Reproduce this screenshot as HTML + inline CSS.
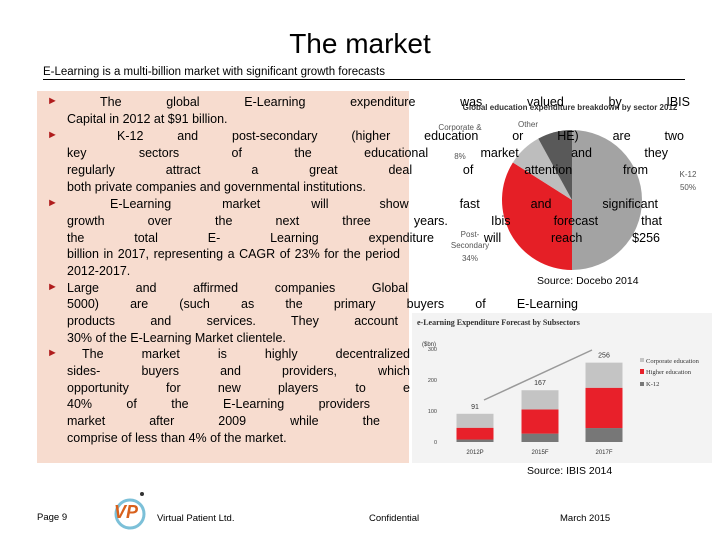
<!DOCTYPE html>
<html><head><meta charset="utf-8">
<style>
*{margin:0;padding:0;box-sizing:border-box}
body{width:720px;height:540px;background:#fff;position:relative;overflow:hidden;font-family:"Liberation Sans",sans-serif;color:#000}
.abs{position:absolute}
.ln{position:absolute;font-size:12.5px;line-height:16px;white-space:nowrap}
.j{text-align:justify;text-align-last:justify;white-space:normal;height:16px;overflow:hidden}
.bul{position:absolute;left:47px;color:#b01c1c;font-size:11px}
</style></head><body>
<div class="abs" style="left:0;width:720px;top:28px;text-align:center;font-size:28px">The market</div>
<div class="abs" style="left:43px;top:65px;font-size:11.5px;width:642px;border-bottom:1px solid #000;line-height:14px">E-Learning is a multi-billion market with significant growth forecasts</div>
<div class="abs" style="left:37px;top:91px;width:372px;height:372px;background:#f7dccf"></div>

<svg class="abs" style="left:420px;top:95px" width="300" height="200" viewBox="0 0 300 200">
<text x="150" y="15" font-size="8" text-anchor="middle" fill="#333" font-weight="bold">Global education expenditure breakdown by sector 2012</text>
<g id="pie"></g>
<text x="268" y="82" font-size="8" fill="#555" text-anchor="middle">K-12</text>
<text x="268" y="95" font-size="8" fill="#555" text-anchor="middle">50%</text>
<text x="50" y="142" font-size="8" fill="#555" text-anchor="middle">Post-</text>
<text x="50" y="153" font-size="8" fill="#555" text-anchor="middle">Secondary</text>
<text x="50" y="166" font-size="8" fill="#555" text-anchor="middle">34%</text>
<text x="40" y="35" font-size="8" fill="#555" text-anchor="middle">Corporate &amp;</text>
<text x="40" y="64" font-size="8" fill="#555" text-anchor="middle">8%</text>
<text x="108" y="32" font-size="8" fill="#555" text-anchor="middle">Other</text>
</svg>
<div class="abs" style="left:537px;top:275px;font-size:10.5px">Source: Docebo 2014</div>

<div id="text"></div>

<svg class="abs" style="left:412px;top:313px;background:#f3f3f3" width="300" height="150" viewBox="0 0 300 150">
<text x="5" y="12" font-size="8" font-weight="bold" fill="#333" font-family="Liberation Serif">e-Learning Expenditure Forecast by Subsectors</text>
<text x="10" y="33" font-size="6" fill="#333">($bn)</text>
<g id="bars"></g>
<g font-size="6.5" font-family="Liberation Serif" fill="#333">
<rect x="228" y="45" width="4" height="4" fill="#c4c4c4"/><text x="234" y="50">Corporate education</text>
<rect x="228" y="56" width="4" height="5" fill="#e8202a"/><text x="234" y="61">Higher education</text>
<rect x="228" y="69" width="4" height="4" fill="#777"/><text x="234" y="73">K-12</text>
</g>
</svg>
<div class="abs" style="left:527px;top:465px;font-size:10.5px">Source: IBIS 2014</div>

<div class="abs" style="left:37px;top:512px;font-size:9.5px">Page 9</div>
<svg class="abs" style="left:104px;top:490px" width="46" height="42">
<circle cx="26" cy="24" r="14" fill="none" stroke="#7cc0d8" stroke-width="3"/>
<text x="10" y="28" font-size="18" font-weight="bold" fill="#d8601c" font-style="italic">VP</text>
<circle cx="38" cy="4" r="2" fill="#333"/>
</svg>
<div class="abs" style="left:157px;top:513px;font-size:9.5px">Virtual Patient Ltd.</div>
<div class="abs" style="left:369px;top:513px;font-size:9.5px">Confidential</div>
<div class="abs" style="left:560px;top:513px;font-size:9.5px">March 2015</div>

<script>
// pie data
const pieLabels=["K-12","Post-Secondary","Corporate","Other"];
const pieValues=[50,34,8,8];
const pieColors=["#a3a3a3","#e51f26","#bdbdbd","#595959"];
// bar data
const barCats=["2012P","2015F","2017F"];
const k12=[8,27,45];
const higher=[38,78,130];
const corporate=[45,62,81];
const totals=["91","167","256"];
const yTicks=[0,100,200,300];

const NS="http://www.w3.org/2000/svg";
(function(){
 const g=document.getElementById('pie');const cx=152,cy=105,r=70;
 const tot=pieValues.reduce((a,b)=>a+b,0);let a0=0;
 pieValues.forEach((v,i)=>{
  const a1=a0+v/tot*2*Math.PI;
  const x0=cx+r*Math.sin(a0),y0=cy-r*Math.cos(a0),x1=cx+r*Math.sin(a1),y1=cy-r*Math.cos(a1);
  const p=document.createElementNS(NS,'path');
  p.setAttribute('d',`M${cx},${cy}L${x0},${y0}A${r},${r} 0 ${a1-a0>Math.PI?1:0} 1 ${x1},${y1}Z`);
  p.setAttribute('fill',pieColors[i]);
  
  
  g.appendChild(p);a0=a1;
 });
})();
(function(){
 const g=document.getElementById('bars');
 const y0=129,ppu=93/300;const y=v=>y0-v*ppu;
 const xs=[63,128,192],bw=37;
 yTicks.forEach(t=>{const tx=document.createElementNS(NS,'text');tx.setAttribute('x',25);tx.setAttribute('y',y(t)+2);tx.setAttribute('font-size','5.5');tx.setAttribute('text-anchor','end');tx.setAttribute('fill','#444');tx.textContent=t;
  
  
  g.appendChild(tx);});
 barCats.forEach((c,i)=>{
  const segs=[[0,k12[i],'#777'],[k12[i],k12[i]+higher[i],'#e8202a'],[k12[i]+higher[i],k12[i]+higher[i]+corporate[i],'#c4c4c4']];
  segs.forEach((s,j)=>{const rc=document.createElementNS(NS,'rect');rc.setAttribute('x',xs[i]-bw/2);rc.setAttribute('y',y(s[1]));rc.setAttribute('width',bw);rc.setAttribute('height',y(s[0])-y(s[1]));rc.setAttribute('fill',s[2]);
   
   
   g.appendChild(rc);});
  const top=k12[i]+higher[i]+corporate[i];
  const t=document.createElementNS(NS,'text');t.setAttribute('x',xs[i]);t.setAttribute('y',y(top)-5);t.setAttribute('font-size','7');t.setAttribute('text-anchor','middle');t.setAttribute('fill','#333');t.textContent=totals[i];
  
  
  g.appendChild(t);
  const l=document.createElementNS(NS,'text');l.setAttribute('x',xs[i]);l.setAttribute('y',y0+12);l.setAttribute('font-size','6');l.setAttribute('text-anchor','middle');l.setAttribute('fill','#333');l.textContent=c;
  
  
  g.appendChild(l);
 });
 const ar=document.createElementNS(NS,'line');ar.setAttribute('x1',72);ar.setAttribute('y1',87);ar.setAttribute('x2',180);ar.setAttribute('y2',37);ar.setAttribute('stroke','#999');ar.setAttribute('stroke-width','1.5');
 
 
 g.appendChild(ar);
})();
// text lines: [text, top, left, right, justify, bullet]
const lines=[
["The global E-Learning expenditure was valued by IBIS",94,100,690,1,1],
["Capital in 2012 at $91 billion.",111,67,0,0,0],
["K-12 and post-secondary (higher education or HE) are two",128,117,684,1,1],
["key sectors of the educational market and they",145,67,668,1,0],
["regularly attract a great deal of attention from",162,67,648,1,0],
["both private companies and governmental institutions.",179,67,0,0,0],
["E-Learning market will show fast and significant",196,110,658,1,1],
["growth over the next three years. Ibis forecast that",213,67,662,1,0],
["the total E- Learning expenditure will reach $256",230,67,660,1,0],
["billion in 2017, representing a CAGR of 23% for the period",246,67,400,1,0],
["2012-2017.",263,67,0,0,0],
["Large and affirmed companies Global",280,67,408,1,1],
["5000) are (such as the primary buyers of E-Learning",296,67,578,1,0],
["products and services. They account",313,67,398,1,0],
["30% of the E-Learning Market clientele.",330,67,0,0,0],
["The market is highly decentralized",346,82,410,1,1],
["sides- buyers and providers, which",363,67,410,1,0],
["opportunity for new players to e",380,67,410,1,0],
["40% of the E-Learning providers",396,67,370,1,0],
["market after 2009 while the",413,67,380,1,0],
["comprise of less than 4% of the market.",430,67,0,0,0]
];
const host=document.getElementById('text');
lines.forEach((L,i)=>{
 const d=document.createElement('div');
 d.className='ln'+(L[4]?' j':'');
 d.style.top=L[1]+'px';d.style.left=L[2]+'px';
 if(L[4])d.style.width=(L[3]-L[2])+'px';
 d.textContent=L[0];
 
 
 host.appendChild(d);
 if(L[5]){const b=document.createElement('div');b.className='bul';b.style.top=(L[1]+1)+'px';b.textContent='►';
  
  
  host.appendChild(b);}
});
</script>
</body></html>
